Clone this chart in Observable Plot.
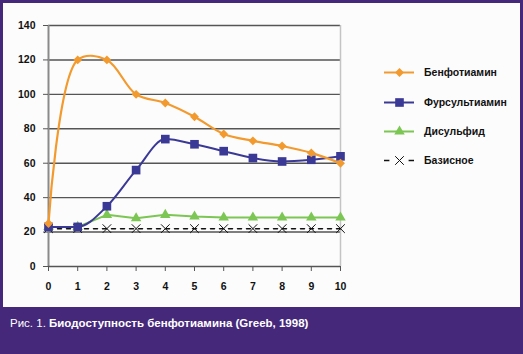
<!DOCTYPE html>
<html><head><meta charset="utf-8">
<script src="https://cdn.jsdelivr.net/npm/d3@7"></script>
<script src="https://cdn.jsdelivr.net/npm/@observablehq/plot@0.6"></script>
<style>
html,body{margin:0;padding:0;background:#fff;}
#frame{position:relative;width:523px;height:354px;background:#45287a;overflow:hidden;}
#inner{position:absolute;left:3px;top:3px;width:517px;height:304px;background:#fcfcfc;}
#legend{position:absolute;left:0;top:0;width:517px;height:304px;}
.lrow{position:absolute;left:421px;font:bold 10.5px "Liberation Sans",Arial,sans-serif;color:#111;transform:translateY(-50%);white-space:nowrap;}
#caption{position:absolute;left:10px;top:317px;width:480px;font:11.5px "Liberation Sans",Arial,sans-serif;color:#fff;white-space:nowrap;}
#caption b{font-weight:bold;}
</style></head>
<body>
<div id="frame"><div id="inner"></div><div id="caption">Рис. 1. <b>Биодоступность бенфотиамина (Greeb, 1998)</b></div></div>
<script>
// data
const hours = [0,1,2,3,4,5,6,7,8,9,10];
const seriesNames = ["Бенфотиамин","Фурсультиамин","Дисульфид","Базисное"];
const benfotiamine = [25,120,120,100,95,87,77,73,70,66,60];
const fursultiamine = [23,23,35,56,74,71,67,63,61,62,64];
const disulfide = [23,23,30,28,30,29,28.5,28.5,28.5,28.5,28.5];
const basal = [22,22,22,22,22,22,22,22,22,22,22];
const yTicks = [0,20,40,60,80,100,120,140];
const xTicks = [0,1,2,3,4,5,6,7,8,9,10];

const colors = ["#f29a2e","#3b3996","#7cc653","#111111"];
const symbols = ["diamond2","square2","triangle2","times"];
const radii = [4,5.5,5,4];
const values = [benfotiamine,fursultiamine,disulfide,basal];
const rows = [];
seriesNames.forEach((s,i)=>hours.forEach((h,j)=>rows.push({series:s,hour:h,value:values[i][j]})));
const sel = s => rows.filter(d=>d.series===s);

const plot = Plot.plot({
  width:517, height:304,
  marginLeft:45, marginRight:180, marginTop:22, marginBottom:41,
  x:{domain:[0,10]}, y:{domain:[0,140]},
  style:{background:"transparent",fontFamily:"Liberation Sans, Arial, sans-serif",fontSize:"10.5px",fontWeight:"bold",color:"#111"},
  marks:[
    Plot.ruleY(yTicks.filter(d=>d>0),{stroke:"#555",strokeWidth:1.4}),
    Plot.ruleX([10],{stroke:"#c4c4c4",strokeWidth:1.5}),
    Plot.ruleX([0],{stroke:"#8a8a8a",strokeWidth:2}),
    Plot.ruleY([0],{stroke:"#555",strokeWidth:1.5}),
    Plot.axisY({ticks:yTicks,tickSize:5,tickPadding:8,label:null,stroke:"#555"}),
    Plot.axisX({ticks:xTicks,tickSize:5,tickPadding:11,label:null,stroke:"#555"}),
    Plot.line(sel(seriesNames[3]),{x:"hour",y:"value",stroke:colors[3],strokeWidth:1.5,strokeDasharray:"4 5"}),
    Plot.line(sel(seriesNames[2]),{x:"hour",y:"value",stroke:colors[2],strokeWidth:2}),
    Plot.line(sel(seriesNames[1]),{x:"hour",y:"value",stroke:colors[1],strokeWidth:2,curve:"monotone-x"}),
    Plot.line(sel(seriesNames[0]),{x:"hour",y:"value",stroke:colors[0],strokeWidth:2.2,curve:"catmull-rom"}),
    Plot.dot(sel(seriesNames[3]),{x:"hour",y:"value",symbol:()=>"times",stroke:colors[3],strokeWidth:1,r:radii[3]}),
    Plot.dot(sel(seriesNames[2]),{x:"hour",y:"value",symbol:()=>"triangle2",fill:colors[2],r:radii[2]}),
    Plot.dot(sel(seriesNames[1]),{x:"hour",y:"value",symbol:()=>"square2",fill:colors[1],r:radii[1]}),
    Plot.dot(sel(seriesNames[0]),{x:"hour",y:"value",symbol:()=>"diamond2",fill:colors[0],r:radii[0]})
  ]
});
const inner = document.getElementById("inner");
inner.appendChild(plot);

// legend
const legendY = [69,99,128,157];
const leg = document.createElement("div"); leg.id="legend"; inner.appendChild(leg);
seriesNames.forEach((s,i)=>{
  const d = document.createElement("div"); d.className="lrow"; d.style.top=legendY[i]+"px"; d.textContent=s; leg.appendChild(d);
});
const legRows = seriesNames.map((s,i)=>({series:s,i,color:colors[i]}));
const legPlot = Plot.plot({
  width:517, height:304, margin:0,
  x:{domain:[0,1],range:[381,411],axis:null}, y:{domain:[0,3],range:legendY,axis:null},
  style:{background:"transparent"},
  marks:[
    Plot.ruleY(legRows.filter(d=>d.i<3),{y:"i",x1:0,x2:1,stroke:"color",strokeWidth:2}),
    Plot.ruleY(legRows.filter(d=>d.i===3),{y:"i",x1:0,x2:0.18,stroke:"color",strokeWidth:1.5}),
    Plot.ruleY(legRows.filter(d=>d.i===3),{y:"i",x1:0.82,x2:1,stroke:"color",strokeWidth:1.5}),
    Plot.dot(legRows.filter(d=>d.i===0),{x:()=>0.5,y:"i",symbol:()=>"diamond2",fill:"color",r:radii[0]}),
    Plot.dot(legRows.filter(d=>d.i===1),{x:()=>0.5,y:"i",symbol:()=>"square2",fill:"color",r:radii[1]}),
    Plot.dot(legRows.filter(d=>d.i===2),{x:()=>0.5,y:"i",symbol:()=>"triangle2",fill:"color",r:radii[2]}),
    Plot.dot(legRows.filter(d=>d.i===3),{x:()=>0.5,y:"i",symbol:()=>"times",stroke:"color",strokeWidth:1,r:radii[3]})
  ]
});
legPlot.style.position="absolute"; legPlot.style.left="0px"; legPlot.style.top="0px";
leg.appendChild(legPlot);
</script>
</body></html>
